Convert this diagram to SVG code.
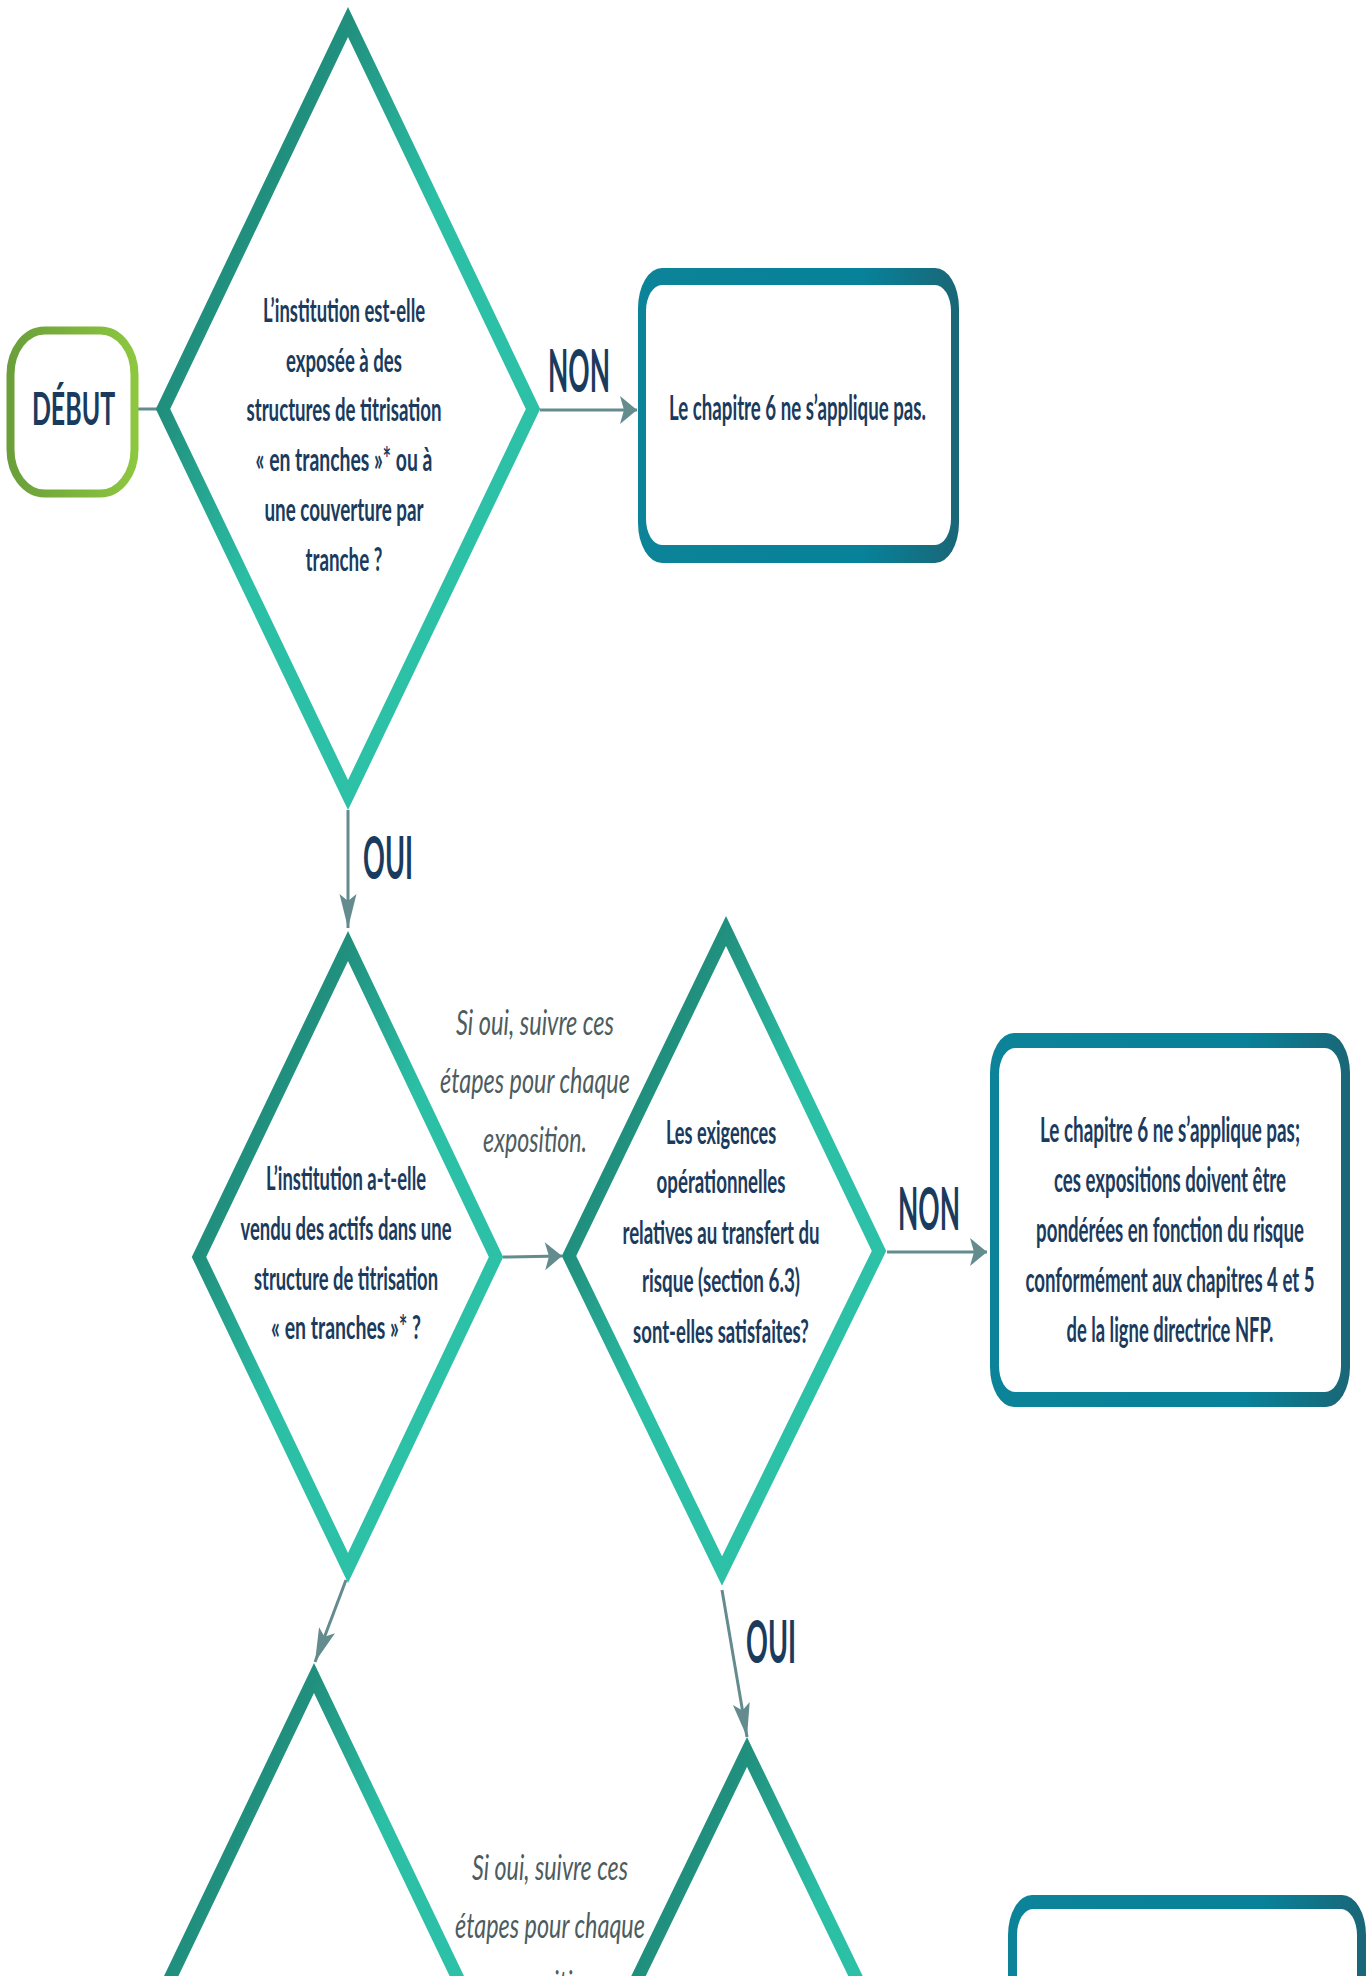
<svg xmlns="http://www.w3.org/2000/svg" width="1367" height="1976" viewBox="0 0 1367 1976">
<defs>
<linearGradient id="gDia" x1="0" y1="0" x2="1" y2="1">
<stop offset="0.25" stop-color="#218f7d"/>
<stop offset="0.48" stop-color="#2bbfa6"/>
<stop offset="1" stop-color="#2dc2a9"/>
</linearGradient>
<linearGradient id="gBox" x1="0" y1="0" x2="1" y2="0">
<stop offset="0" stop-color="#0c8398"/>
<stop offset="0.7" stop-color="#07829a"/>
<stop offset="1" stop-color="#1a6676"/>
</linearGradient>
<linearGradient id="gPill" x1="0" y1="0" x2="1" y2="0">
<stop offset="0" stop-color="#6a9f3a"/>
<stop offset="1" stop-color="#8dc73f"/>
</linearGradient>
<marker id="arrH" markerUnits="userSpaceOnUse" markerWidth="17" markerHeight="28" refX="17" refY="14" orient="auto" overflow="visible">
<path d="M0,0 L17,14 L0,28 L4,14 Z" fill="#648b8d"/>
</marker>
<marker id="arrV" markerUnits="userSpaceOnUse" markerWidth="34" markerHeight="17" refX="34" refY="8.5" orient="auto" overflow="visible">
<path d="M0,0 L34,8.5 L0,17 L7,8.5 Z" fill="#648b8d"/>
</marker>
<style>
.dia{fill:#ffffff;stroke:url(#gDia);stroke-width:13;stroke-linejoin:miter}
.bo{fill:url(#gBox)}
.bi{fill:#ffffff}
.t{font-family:Lato,"Liberation Sans",sans-serif;font-weight:700;fill:#1a3b5d;text-anchor:middle}
.td{font-size:33px}
.tb{font-size:35px}
.lbl{font-size:59px}
.it{font-family:Lato,"Liberation Sans",sans-serif;font-style:italic;font-weight:400;font-size:35px;fill:#4d5c5e;text-anchor:middle}
.c{fill:none;stroke:#648b8d;stroke-width:3}
</style>
</defs>
<rect x="0" y="0" width="1367" height="1976" fill="#ffffff"/>

<g id="connectors">
<line class="c" x1="138" y1="409" x2="158" y2="409"/>
<line class="c" x1="540" y1="410" x2="637" y2="410" marker-end="url(#arrH)"/>
<line class="c" x1="348" y1="810" x2="348" y2="928" marker-end="url(#arrV)"/>
<line class="c" x1="503" y1="1257" x2="562" y2="1256" marker-end="url(#arrH)"/>
<line class="c" x1="887" y1="1252" x2="987" y2="1252" marker-end="url(#arrH)"/>
<line class="c" x1="346" y1="1580" x2="315" y2="1662" marker-end="url(#arrV)"/>
<line class="c" x1="722" y1="1590" x2="747" y2="1737" marker-end="url(#arrV)"/>
</g>

<g id="labels">
<g transform="translate(579 0) scale(0.52 1)"><text class="t lbl" x="0" y="392" textLength="119" lengthAdjust="spacingAndGlyphs">NON</text></g>
<g transform="translate(388 0) scale(0.52 1)"><text class="t lbl" x="0" y="879" textLength="96" lengthAdjust="spacingAndGlyphs">OUI</text></g>
<g transform="translate(929 0) scale(0.52 1)"><text class="t lbl" x="0" y="1230" textLength="119" lengthAdjust="spacingAndGlyphs">NON</text></g>
<g transform="translate(771 0) scale(0.52 1)"><text class="t lbl" x="0" y="1663" textLength="96" lengthAdjust="spacingAndGlyphs">OUI</text></g>
<g transform="translate(535 0) scale(0.52 1)">
<text class="it" x="0" y="1035" textLength="304" lengthAdjust="spacingAndGlyphs">Si oui, suivre ces</text>
<text class="it" x="0" y="1093" textLength="365" lengthAdjust="spacingAndGlyphs">étapes pour chaque</text>
<text class="it" x="0" y="1152" textLength="200" lengthAdjust="spacingAndGlyphs">exposition.</text>
</g>
<g transform="translate(550 0) scale(0.52 1)">
<text class="it" x="0" y="1880" textLength="300" lengthAdjust="spacingAndGlyphs">Si oui, suivre ces</text>
<text class="it" x="0" y="1938" textLength="365" lengthAdjust="spacingAndGlyphs">étapes pour chaque</text>
<text class="it" x="0" y="1996" textLength="200" lengthAdjust="spacingAndGlyphs">exposition.</text>
</g>
</g>

<g id="debut">
<rect x="10.5" y="330.5" width="124" height="163" rx="34" ry="44" fill="#ffffff" stroke="url(#gPill)" stroke-width="8"/>
<g transform="translate(73.5 0) scale(0.52 1)"><text class="t" x="0" y="425" font-size="45" textLength="160" lengthAdjust="spacingAndGlyphs">DÉBUT</text></g>
</g>

<g id="q1">
<polygon class="dia" points="348,22 533,409 348,795 163,409"/>
<g transform="translate(344 0) scale(0.52 1)">
<text class="t td" x="0" y="322" textLength="312" lengthAdjust="spacingAndGlyphs">L’institution est-elle</text>
<text class="t td" x="0" y="372" textLength="223" lengthAdjust="spacingAndGlyphs">exposée à des</text>
<text class="t td" x="0" y="421" textLength="375" lengthAdjust="spacingAndGlyphs">structures de titrisation</text>
<text class="t td" x="0" y="471" textLength="340" lengthAdjust="spacingAndGlyphs">« en tranches »* ou à</text>
<text class="t td" x="0" y="521" textLength="306" lengthAdjust="spacingAndGlyphs">une couverture par</text>
<text class="t td" x="0" y="571" textLength="148" lengthAdjust="spacingAndGlyphs">tranche ?</text>
</g>
</g>

<g id="r1">
<rect class="bo" x="638" y="268" width="321" height="295" rx="24" ry="40"/>
<rect class="bi" x="646" y="285" width="305" height="260" rx="16" ry="26"/>
<g transform="translate(797.5 0) scale(0.52 1)">
<text class="t tb" x="0" y="420" textLength="494" lengthAdjust="spacingAndGlyphs">Le chapitre 6 ne s’applique pas.</text>
</g>
</g>

<g id="q2">
<polygon class="dia" points="348,946 496,1257 348,1568 199,1257"/>
<g transform="translate(346 0) scale(0.52 1)">
<text class="t td" x="0" y="1190" textLength="308" lengthAdjust="spacingAndGlyphs">L’institution a-t-elle</text>
<text class="t td" x="0" y="1240" textLength="406" lengthAdjust="spacingAndGlyphs">vendu des actifs dans une</text>
<text class="t td" x="0" y="1290" textLength="354" lengthAdjust="spacingAndGlyphs">structure de titrisation</text>
<text class="t td" x="0" y="1339" textLength="288" lengthAdjust="spacingAndGlyphs">« en tranches »* ?</text>
</g>
</g>

<g id="q3">
<polygon class="dia" points="726,931 879,1251 722,1571 569,1256"/>
<g transform="translate(721 0) scale(0.52 1)">
<text class="t td" x="0" y="1144" textLength="212" lengthAdjust="spacingAndGlyphs">Les exigences</text>
<text class="t td" x="0" y="1193" textLength="248" lengthAdjust="spacingAndGlyphs">opérationnelles</text>
<text class="t td" x="0" y="1244" textLength="379" lengthAdjust="spacingAndGlyphs">relatives au transfert du</text>
<text class="t td" x="0" y="1292" textLength="304" lengthAdjust="spacingAndGlyphs">risque (section 6.3)</text>
<text class="t td" x="0" y="1343" textLength="338" lengthAdjust="spacingAndGlyphs">sont-elles satisfaites?</text>
</g>
</g>

<g id="r2">
<rect class="bo" x="990" y="1033" width="360" height="374" rx="24" ry="40"/>
<rect class="bi" x="999" y="1048" width="342" height="344" rx="16" ry="26"/>
<g transform="translate(1170 0) scale(0.52 1)">
<text class="t tb" x="0" y="1142" textLength="500" lengthAdjust="spacingAndGlyphs">Le chapitre 6 ne s’applique pas;</text>
<text class="t tb" x="0" y="1192" textLength="446" lengthAdjust="spacingAndGlyphs">ces expositions doivent être</text>
<text class="t tb" x="0" y="1242" textLength="515" lengthAdjust="spacingAndGlyphs">pondérées en fonction du risque</text>
<text class="t tb" x="0" y="1292" textLength="556" lengthAdjust="spacingAndGlyphs">conformément aux chapitres 4 et 5</text>
<text class="t tb" x="0" y="1342" textLength="398" lengthAdjust="spacingAndGlyphs">de la ligne directrice NFP.</text>
</g>
</g>

<g id="q4">
<polygon class="dia" points="314,1678 463,1989 314,2300 165,1989"/>
</g>

<g id="q5">
<polygon class="dia" points="747,1752 902,2072 747,2392 592,2072"/>
</g>

<g id="r3">
<rect class="bo" x="1008" y="1895" width="358" height="400" rx="24" ry="40"/>
<rect class="bi" x="1017" y="1909" width="340" height="372" rx="16" ry="26"/>
</g>
</svg>
